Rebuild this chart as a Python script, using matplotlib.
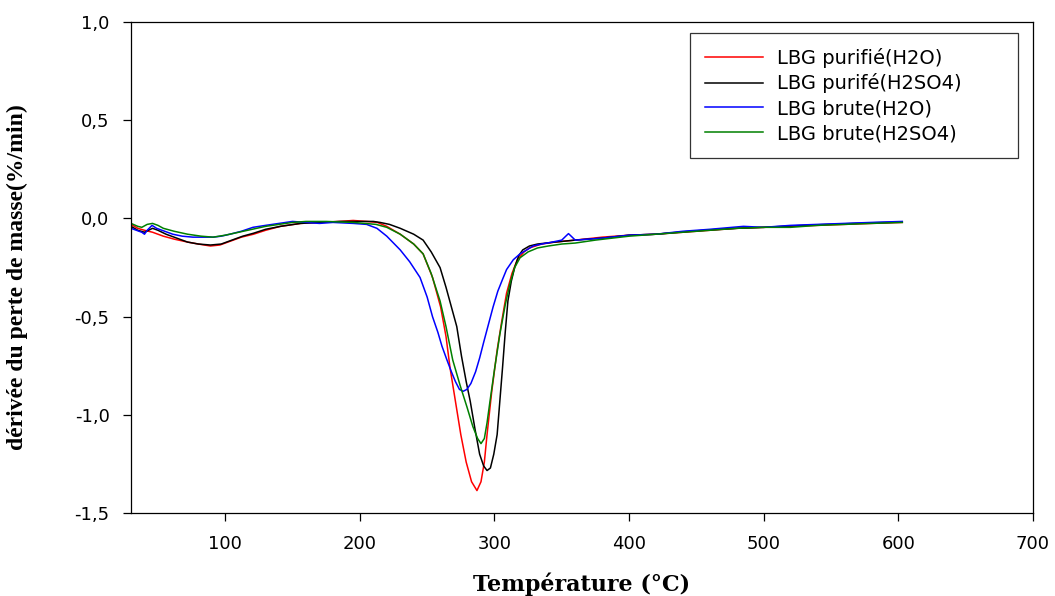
import numpy as np
import matplotlib
matplotlib.use('Agg')
import matplotlib.pyplot as plt
from matplotlib.ticker import FuncFormatter

# temperature (C) / derivative (%/min)
t_red = [30, 35, 40, 46, 54, 62, 72, 80, 89, 96, 104, 112, 121, 130, 141, 156, 170, 185, 195, 205, 213,
         220, 230, 240, 247, 254, 260, 264, 267, 271, 275, 279, 283, 287, 290, 292.5, 294.5, 298, 302,
         305.5, 309, 313, 317, 322, 326, 335, 345, 360, 380, 400, 420, 440, 460, 480, 500, 520, 540,
         560, 580, 603]
y_red = [-0.03, -0.05, -0.06, -0.07, -0.09, -0.105, -0.12, -0.13, -0.14, -0.135, -0.115, -0.095, -0.08,
         -0.06, -0.04, -0.025, -0.02, -0.015, -0.01, -0.015, -0.02, -0.04, -0.08, -0.13, -0.18, -0.30,
         -0.45, -0.60, -0.76, -0.93, -1.10, -1.24, -1.34, -1.385, -1.34, -1.24, -1.10, -0.88, -0.67,
         -0.52, -0.38, -0.28, -0.21, -0.17, -0.15, -0.13, -0.12, -0.11, -0.095, -0.085, -0.08, -0.07,
         -0.06, -0.05, -0.045, -0.04, -0.035, -0.03, -0.025, -0.02]

t_black = [30, 35, 40, 43, 46, 50, 56, 64, 72, 80, 89, 97, 105, 113, 121, 130, 141, 156, 170, 185, 200,
           210, 215, 222, 230, 240, 247, 253, 259.6, 264, 268, 272, 275.5, 279, 282, 285.5, 289, 292,
           294.5, 297, 299.5, 302, 304, 306, 308, 310, 312.5, 315, 318, 321, 326, 332, 345, 360, 380,
           400, 420, 440, 460, 480, 500, 520, 540, 560, 580, 603]
y_black = [-0.04, -0.06, -0.07, -0.06, -0.05, -0.06, -0.08, -0.10, -0.12, -0.13, -0.135, -0.13, -0.11,
           -0.09, -0.075, -0.055, -0.04, -0.025, -0.02, -0.015, -0.015, -0.015, -0.02, -0.03, -0.05,
           -0.08, -0.11, -0.17, -0.25, -0.35, -0.45, -0.55, -0.70, -0.83, -0.93, -1.07, -1.20, -1.26,
           -1.283, -1.27, -1.20, -1.10, -0.93, -0.76, -0.58, -0.42, -0.32, -0.25, -0.19, -0.16, -0.14,
           -0.13, -0.12, -0.11, -0.10, -0.085, -0.08, -0.068, -0.058, -0.05, -0.045, -0.038, -0.032,
           -0.027, -0.022, -0.018]

t_blue = [30, 34, 38, 40, 42, 45.6, 49, 55, 61, 68, 76, 84, 91, 97, 103.5, 112, 120.6, 130, 140, 150,
          160, 170, 180, 195, 205, 212.7, 220, 230, 237, 244.7, 250, 254, 258, 261, 264.7, 268, 271,
          274, 276.7, 279.5, 282.5, 286, 289, 292, 295.5, 299, 302.5, 306, 309, 314, 319, 324, 328.7,
          335, 343, 350, 353, 355, 357, 360, 370, 380, 400, 420, 440, 460, 485, 500, 520, 540, 560,
          580, 603]
y_blue = [-0.05, -0.06, -0.07, -0.08, -0.06, -0.035, -0.05, -0.065, -0.08, -0.09, -0.095, -0.095,
          -0.095, -0.09, -0.08, -0.065, -0.045, -0.035, -0.025, -0.015, -0.02, -0.025, -0.02, -0.025,
          -0.03, -0.05, -0.09, -0.16, -0.22, -0.30, -0.40, -0.50, -0.58, -0.65, -0.72, -0.78, -0.83,
          -0.87, -0.88, -0.87, -0.84, -0.78, -0.71, -0.63, -0.54, -0.45, -0.37, -0.31, -0.26, -0.21,
          -0.18, -0.16, -0.14, -0.13, -0.12, -0.11, -0.09, -0.077, -0.09, -0.11, -0.105, -0.10, -0.085,
          -0.08, -0.065, -0.055, -0.04, -0.045, -0.035, -0.03, -0.025, -0.02, -0.015]

t_green = [30, 35, 38, 42, 46, 50, 54, 62, 72, 82, 91, 100, 110, 120, 130, 140, 150, 160, 175, 195,
           212, 220, 230, 240, 247, 253, 259.6, 264, 269, 274.5, 279.6, 284, 287.5, 290, 292.5, 294.5,
           296.7, 300, 304, 308, 311.6, 315, 319, 325, 332, 340, 350, 360, 375, 400, 420, 440, 460,
           480, 500, 520, 540, 560, 580, 603]
y_green = [-0.025, -0.04, -0.045, -0.03, -0.025, -0.035, -0.05, -0.065, -0.08, -0.09, -0.095, -0.085,
           -0.07, -0.055, -0.04, -0.03, -0.02, -0.015, -0.015, -0.02, -0.03, -0.045, -0.08, -0.13,
           -0.18, -0.28, -0.42, -0.55, -0.72, -0.85, -0.96, -1.06, -1.12, -1.146, -1.12, -1.04, -0.93,
           -0.77, -0.59, -0.44, -0.33, -0.25, -0.20, -0.17, -0.15, -0.14, -0.13, -0.125, -0.11, -0.09,
           -0.08, -0.07, -0.06, -0.05, -0.045, -0.045, -0.035, -0.03, -0.025, -0.02]

labels = ['LBG purifié(H2O)', 'LBG purifé(H2SO4)', 'LBG brute(H2O)', 'LBG brute(H2SO4)']
x_ticks = [100, 200, 300, 400, 500, 600, 700]
y_ticks = [-1.5, -1.0, -0.5, 0.0, 0.5, 1.0]

fig = plt.figure(figsize=(10.55, 5.96), dpi=100)
ax = fig.add_axes([0.1242, 0.139, 0.979 - 0.1242, 0.963 - 0.139])

ax.plot(t_red, y_red, color='red', lw=1.1, label=labels[0])
ax.plot(t_black, y_black, color='black', lw=1.1, label=labels[1])
ax.plot(t_blue, y_blue, color='blue', lw=1.1, label=labels[2])
ax.plot(t_green, y_green, color='green', lw=1.1, label=labels[3])

ax.set_xlim(30, 700)
ax.set_ylim(-1.5, 1.0)
ax.set_xticks(x_ticks)
ax.set_yticks(y_ticks)
ax.yaxis.set_major_formatter(FuncFormatter(lambda v, p: ('%.1f' % v).replace('.', ',')))
ax.tick_params(direction='out', length=5.5, width=0.9, labelsize=13)
ax.tick_params(axis='x', pad=10)
ax.tick_params(axis='y', pad=10)
for lab in ax.get_xticklabels() + ax.get_yticklabels():
    lab.set_family('DejaVu Sans')
for s in ax.spines.values():
    s.set_linewidth(0.9)

ax.set_xlabel('Température (°C)', family='DejaVu Serif', fontweight='bold', fontsize=16, labelpad=14)
ax.set_ylabel('dérivée du perte de masse(%/min)', family='Liberation Serif', fontweight='bold',
              fontsize=17)
ax.yaxis.set_label_coords(-0.114, 0.48)

leg = ax.legend(loc='upper left', bbox_to_anchor=(690 / 1055, 1 - 33 / 596 - 0.01, 328 / 1055, 0.01),
                bbox_transform=fig.transFigure, mode='expand',
                prop={'family': 'DejaVu Sans', 'size': 14}, frameon=True, fancybox=False,
                handlelength=3.0, handletextpad=0.7, labelspacing=0.3, borderpad=0.75,
                borderaxespad=0)
leg.get_frame().set_edgecolor('black')
leg.get_frame().set_linewidth(0.9)

fig.savefig('out.png', dpi=100)
